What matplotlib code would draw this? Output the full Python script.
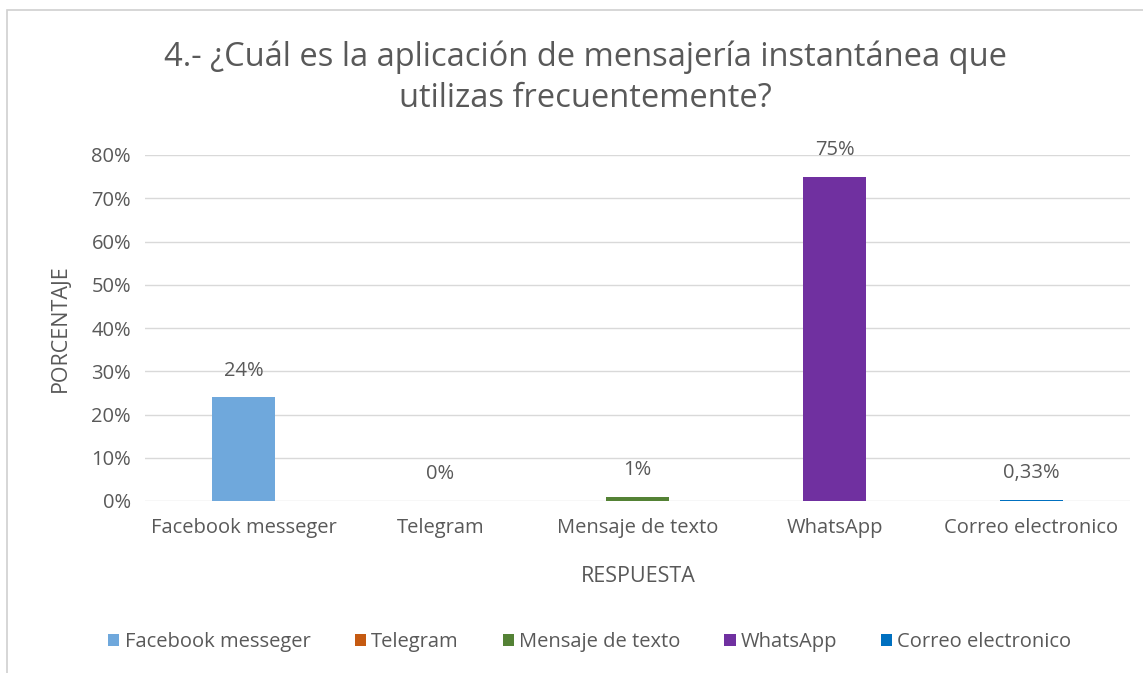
import matplotlib
matplotlib.use("Agg")
import matplotlib.pyplot as plt
from matplotlib.patches import Rectangle, Patch

categories = ["Facebook messeger", "Telegram", "Mensaje de texto", "WhatsApp", "Correo electronico"]
values = [24, 0, 1, 75, 0.33]
value_labels = ["24%", "0%", "1%", "75%", "0,33%"]
colors = ["#6FA8DC", "#C55A11", "#548235", "#7030A0", "#0070C0"]
yticks = [0, 10, 20, 30, 40, 50, 60, 70, 80]
ytick_labels = ["0%", "10%", "20%", "30%", "40%", "50%", "60%", "70%", "80%"]
title = "4.- ¿Cuál es la aplicación de mensajería instantánea que\nutilizas frecuentemente?"

W, H = 1143, 673
plt.rcParams['font.family'] = ['Open Sans', 'DejaVu Sans']
fig = plt.figure(figsize=(W / 100, H / 100), dpi=100)
txt = "#595959"
fs = 14.5

# chart border
fig.patches.append(Rectangle((7 / W, -0.1), 1.2, 1 - 10 / H + 0.1, transform=fig.transFigure,
                             fill=False, edgecolor="#D0D0D0", lw=1.2))

ax = fig.add_axes([145 / W, 1 - 501 / H, (1130 - 145) / W, (501 - 155) / H])
x = list(range(len(categories)))
ax.bar(x, values, width=0.315, color=colors, zorder=3)
ax.set_xlim(-0.5, len(categories) - 0.5)
ax.set_ylim(0, 80)
ax.set_yticks(yticks)
ax.set_yticklabels(ytick_labels, color=txt, fontsize=fs)
ax.set_xticks(x)
ax.set_xticklabels(categories, color=txt, fontsize=fs)
ax.tick_params(length=0, pad=10)
ax.tick_params(axis='x', pad=12)
ax.grid(axis='y', color="#D9D9D9", lw=1, zorder=0)
for s in ax.spines.values():
    s.set_visible(False)
for xi, v, lab in zip(x, values, value_labels):
    ax.annotate(lab, (xi, v), xytext=(0, 12), textcoords="offset points",
                ha="center", va="bottom", color=txt, fontsize=fs)

fig.text(585 / W, 1 - 78 / H, title, ha="center", va="center", fontsize=23.5,
         color=txt, linespacing=1.3)
fig.text(60 / W, 1 - 328 / H, "PORCENTAJE", rotation=90, ha="center", va="center",
         fontsize=fs + 1, color=txt)
fig.text(638 / W, 1 - 576 / H, "RESPUESTA", ha="center", va="center", fontsize=fs + 1, color=txt)

handles = [Patch(facecolor=c) for c in colors]
fig.legend(handles, categories, loc="center", bbox_to_anchor=(590 / W, 1 - 642 / H),
           ncol=5, frameon=False, fontsize=fs, handlelength=0.55, handleheight=0.55,
           handletextpad=0.25, columnspacing=2.2, labelcolor=txt)

fig.savefig("out.png", dpi=100)
